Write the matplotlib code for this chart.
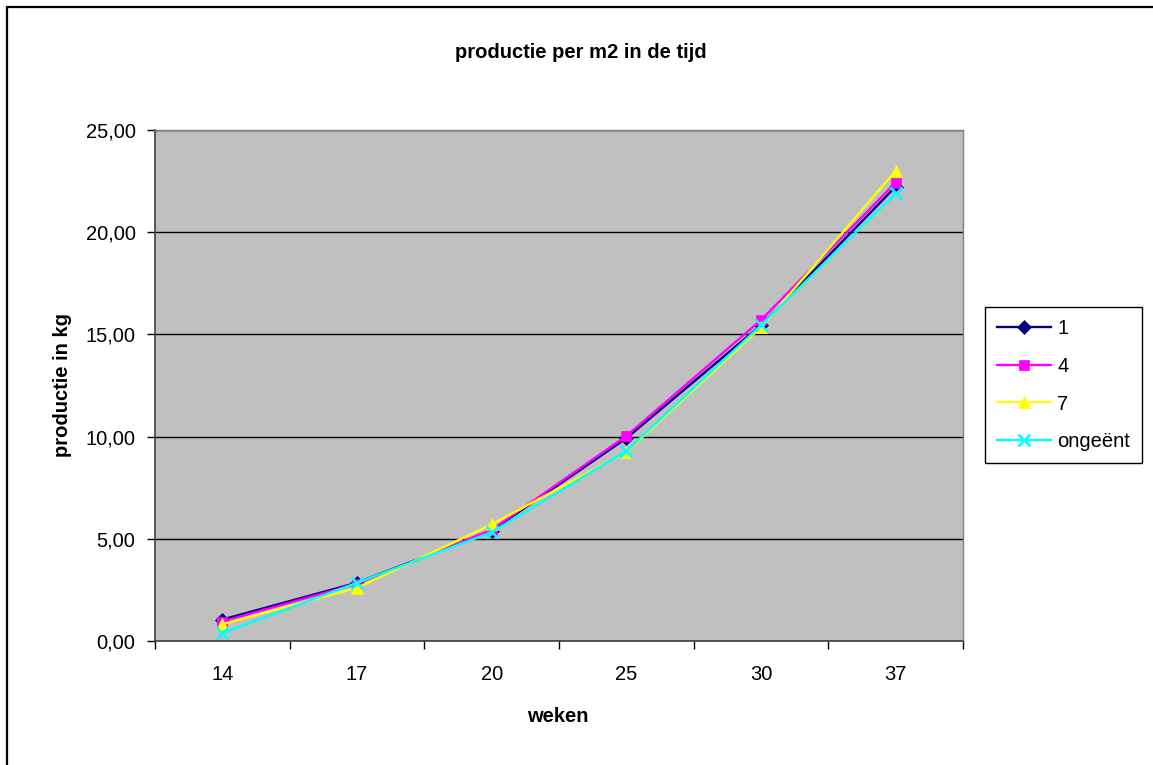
import matplotlib
matplotlib.use("Agg")
import matplotlib.pyplot as plt
from matplotlib.patches import Rectangle
from matplotlib.ticker import FixedLocator, FuncFormatter

plt.rcParams['font.family'] = ['Liberation Sans', 'DejaVu Sans']

weeks = ["14", "17", "20", "25", "30", "37"]
series_names = ["1", "4", "7", "ongeënt"]
s1 = [1.05, 2.85, 5.40, 9.92, 15.45, 22.23]
s4 = [0.95, 2.80, 5.44, 10.03, 15.70, 22.43]
s7 = [0.82, 2.60, 5.70, 9.25, 15.34, 23.00]
s_ong = [0.38, 2.85, 5.32, 9.30, 15.45, 21.90]

colors = ["#000080", "#FF00FF", "#FFFF00", "#00FFFF"]
markers = ["D", "s", "^", "x"]
msizes = [7, 7, 8.5, 8.5]

W, H = 1153, 765
fig = plt.figure(figsize=(W / 100, H / 100), dpi=100)
fig.patch.set_facecolor("white")

# outer chart border
fig.add_artist(Rectangle((7 / W, -0.01), 1.1, 1 - 7 / H + 0.01, transform=fig.transFigure,
                         fill=False, edgecolor="black", linewidth=1.6))

ax = fig.add_axes([155 / W, 1 - 641 / H, (963 - 155) / W, (641 - 130) / H])
ax.set_facecolor("#C0C0C0")

x = list(range(len(weeks)))
for vals, name, c, m, ms in zip([s1, s4, s7, s_ong], series_names, colors, markers, msizes):
    ax.plot(x, vals, color=c, marker=m, markersize=ms, linewidth=1.7, label=name,
            markeredgewidth=1.8 if m == "x" else 0.5, markeredgecolor=c, markerfacecolor=c)

ax.set_xlim(-0.5, len(weeks) - 0.5)
ax.set_ylim(0, 25)
ax.set_yticks([0, 5, 10, 15, 20, 25])
ax.yaxis.set_major_formatter(FuncFormatter(lambda v, p: f"{v:.2f}".replace(".", ",")))
ax.yaxis.grid(True, color="black", linewidth=1.0)
ax.set_axisbelow(True)

ax.set_xticks(x)
ax.set_xticklabels(weeks)
ax.xaxis.set_minor_locator(FixedLocator([i - 0.5 for i in range(len(weeks) + 1)]))
ax.tick_params(axis="x", which="major", length=0, pad=24, labelsize=14.5)
ax.tick_params(axis="x", which="minor", length=6, width=1, color="black")
ax.tick_params(axis="y", which="major", length=6, width=1, pad=8, labelsize=14.5)
for lbl in ax.get_xticklabels():
    lbl.set_va("center")

for side in ["top", "right"]:
    ax.spines[side].set_color("#808080")
    ax.spines[side].set_linewidth(1.0)
for side in ["left", "bottom"]:
    ax.spines[side].set_color("#404040")
    ax.spines[side].set_linewidth(1.2)

fig.text(581 / W, 1 - 52 / H, "productie per m2 in de tijd", ha="center", va="center",
         fontsize=14.5, fontweight="bold")
fig.text(558 / W, 1 - 716 / H, "weken",
         ha="center", va="center", fontsize=14.5, fontweight="bold")
fig.text(62 / W, 1 - 385 / H, "productie in kg", ha="center", va="center",
         fontsize=14.5, fontweight="bold", rotation=90)

leg = ax.legend(loc="upper left", bbox_to_anchor=(985 / W, 1 - 307 / H), bbox_transform=fig.transFigure,
                frameon=True, fancybox=False, framealpha=1, edgecolor="black",
                fontsize=14.5, handlelength=2.7, handletextpad=0.3, labelspacing=0.93,
                borderpad=0.6, borderaxespad=0)
leg.get_frame().set_linewidth(1.0)

fig.savefig("out.png", dpi=100, facecolor="white")
